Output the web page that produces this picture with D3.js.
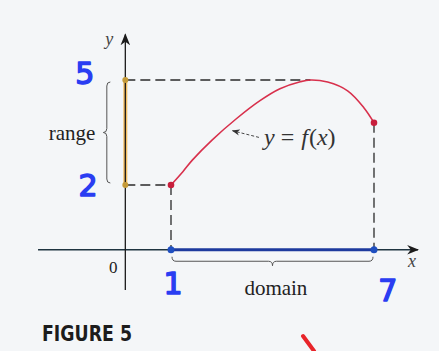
<!DOCTYPE html>
<html>
<head>
<meta charset="utf-8">
<script src="https://cdn.jsdelivr.net/npm/d3@7"></script>
<style>
html, body { margin: 0; padding: 0; background: #f4f6f8; }
svg { display: block; }
</style>
</head>
<body>
<svg id="chart" width="439" height="351"></svg>
<script>
// curve y = f(x)
var curveX = [1, 1.35, 1.63, 2.22, 2.94, 3.63, 4.22, 4.82, 5.12, 5.63, 6.22, 6.7, 7];
var curveY = [2, 2.38, 2.71, 3.29, 3.9, 4.41, 4.75, 4.95, 5, 4.94, 4.69, 4.21, 3.78];
var domainEnds = [1, 7];
var rangeEnds = [2, 5];
var maxX = 5.12;
// where the axes sit and how far they run (figure is not drawn to scale)
var axisCross = [-0.35, 0.15];
var xAxisRun = [-2.93, 8.3];
var yAxisRun = [-1.0, 6.3];
// handwritten marks
var noteText = ['5', '2', '1', '7'];
var noteX = [-1.55, -1.45, 1.06, 7.41];
var noteY = [4.88, 1.7, -1.1, -1.3];

var svg = d3.select('#chart');
var x = d3.scaleLinear().domain([1, 7]).range([171, 374]);
var y = d3.scaleLinear().domain([2, 5]).range([185, 80]);

var ox = x(axisCross[0]), oy = y(axisCross[1]);

var defs = svg.append('defs');
defs.append('marker').attr('id', 'arr').attr('viewBox', '0 0 10 10')
	.attr('refX', 9).attr('refY', 5).attr('markerWidth', 12).attr('markerHeight', 12)
	.attr('markerUnits', 'userSpaceOnUse').attr('orient', 'auto')
	.append('path').attr('d', 'M0,1 L10,5 L0,9 L3,5 Z').attr('fill', '#1b1b1b');
defs.append('marker').attr('id', 'arrSmall').attr('viewBox', '0 0 10 10')
	.attr('refX', 9).attr('refY', 5).attr('markerWidth', 8).attr('markerHeight', 8)
	.attr('markerUnits', 'userSpaceOnUse').attr('orient', 'auto')
	.append('path').attr('d', 'M0,1 L10,5 L0,9 L3,5 Z').attr('fill', '#333');

// highlight on the range (orange) - under the axis
svg.append('line')
	.attr('x1', ox).attr('x2', ox)
	.attr('y1', y(rangeEnds[1])).attr('y2', y(rangeEnds[0]))
	.attr('stroke', '#f3b446').attr('stroke-width', 4).attr('opacity', 0.85);

// axes
svg.append('line')
	.attr('x1', x(xAxisRun[0])).attr('x2', x(xAxisRun[1]))
	.attr('y1', oy).attr('y2', oy)
	.attr('stroke', '#1f3440').attr('stroke-width', 1.3)
	.attr('marker-end', 'url(#arr)');
svg.append('line')
	.attr('x1', ox).attr('x2', ox)
	.attr('y1', y(yAxisRun[0])).attr('y2', y(yAxisRun[1]))
	.attr('stroke', '#1b1b1b').attr('stroke-width', 1.3)
	.attr('marker-end', 'url(#arr)');

// domain highlight (blue)
svg.append('line')
	.attr('x1', x(domainEnds[0])).attr('x2', x(domainEnds[1]))
	.attr('y1', oy).attr('y2', oy)
	.attr('stroke', '#1d3a9e').attr('stroke-width', 3);

// dashed guides
var dash = '10,5';
var guides = [
	[[axisCross[0], rangeEnds[1]], [maxX, rangeEnds[1]]],
	[[axisCross[0], rangeEnds[0]], [domainEnds[0], rangeEnds[0]]],
	[[domainEnds[0], rangeEnds[0]], [domainEnds[0], axisCross[1]]],
	[[domainEnds[1], curveY[curveY.length - 1]], [domainEnds[1], axisCross[1]]]
];
svg.selectAll('.guide').data(guides).enter().append('line')
	.attr('class', 'guide')
	.attr('x1', function(d) {return x(d[0][0]);})
	.attr('y1', function(d) {return y(d[0][1]);})
	.attr('x2', function(d) {return x(d[1][0]);})
	.attr('y2', function(d) {return y(d[1][1]);})
	.attr('stroke', '#2a2a2a').attr('stroke-width', 1.3)
	.attr('stroke-dasharray', dash);

// the curve
var pts = curveX.map(function(v, i) {return [v, curveY[i]];});
var line = d3.line()
	.x(function(d) {return x(d[0]);})
	.y(function(d) {return y(d[1]);})
	.curve(d3.curveCatmullRom);
svg.append('path').attr('d', line(pts))
	.attr('fill', 'none').attr('stroke', '#d8304c').attr('stroke-width', 1.6);

// end points
svg.selectAll('.redDot').data([pts[0], pts[pts.length - 1]]).enter().append('circle')
	.attr('cx', function(d) {return x(d[0]);})
	.attr('cy', function(d) {return y(d[1]);})
	.attr('r', 3.3).attr('fill', '#c81e3c');
svg.selectAll('.blueDot').data(domainEnds).enter().append('circle')
	.attr('cx', function(d) {return x(d);})
	.attr('cy', oy)
	.attr('r', 3.5).attr('fill', '#1f4fc0');
svg.selectAll('.yDot').data(rangeEnds).enter().append('circle')
	.attr('cx', ox)
	.attr('cy', function(d) {return y(d);})
	.attr('r', 3).attr('fill', '#c59a38');

// curly braces
function brace(x1, y1, x2, y2, w) {
	// brace from (x1,y1) to (x2,y2), tip bulging w to the left of the direction
	var dx = x2 - x1, dy = y2 - y1, len = Math.sqrt(dx * dx + dy * dy);
	var ux = dx / len, uy = dy / len, nx = uy, ny = -ux;
	function p(t, s) {return [x1 + ux * t + nx * s, y1 + uy * t + ny * s];}
	var h = len / 2, q = w / 2;
	var a = p(0, 0), b = p(4, q), c = p(h - 4, q), tip = p(h, w);
	var d = p(h + 4, q), e = p(len - 4, q), f = p(len, 0);
	var c1 = p(0, q), c2 = p(h, q), c3 = p(h, q), c4 = p(len, q);
	return 'M' + a + 'Q' + c1 + ' ' + b + 'L' + c + 'Q' + c2 + ' ' + tip +
		'Q' + c3 + ' ' + d + 'L' + e + 'Q' + c4 + ' ' + f;
}
svg.append('path')
	.attr('d', brace(ox - 15, y(rangeEnds[0]) - 2, ox - 15, y(rangeEnds[1]) + 2, 7))
	.attr('fill', 'none').attr('stroke', '#555').attr('stroke-width', 1);
svg.append('path')
	.attr('d', brace(x(domainEnds[0]) + 1, oy + 7, x(domainEnds[1]) - 1, oy + 7, -9))
	.attr('fill', 'none').attr('stroke', '#555').attr('stroke-width', 1);

// text
var serif = '"Liberation Serif", "DejaVu Serif", serif';
svg.append('text').attr('x', ox - 30).attr('y', y(3.5) + 7)
	.attr('text-anchor', 'end').attr('font-family', serif).attr('font-size', 21)
	.attr('fill', '#222').text('range');
svg.append('text').attr('x', x(4.1)).attr('y', oy + 45)
	.attr('text-anchor', 'middle').attr('font-family', serif).attr('font-size', 21)
	.attr('fill', '#222').text('domain');
svg.append('text').attr('x', ox - 12).attr('y', oy + 23)
	.attr('text-anchor', 'middle').attr('font-family', serif).attr('font-size', 17)
	.attr('fill', '#222').text('0');
svg.append('text').attr('x', ox - 20).attr('y', y(yAxisRun[1]) + 10)
	.attr('font-family', serif).attr('font-style', 'italic').attr('font-size', 18)
	.attr('fill', '#444').text('y');
svg.append('text').attr('x', x(xAxisRun[1]) - 10).attr('y', oy + 17)
	.attr('font-family', serif).attr('font-style', 'italic').attr('font-size', 18)
	.attr('fill', '#444').text('x');

var lab = svg.append('text').attr('x', x(3.75)).attr('y', y(3.14))
	.attr('font-family', serif).attr('font-size', 24).attr('fill', '#333');
lab.append('tspan').attr('font-style', 'italic').text('y');
lab.append('tspan').attr('dx', 6).text('=');
lab.append('tspan').attr('dx', 7).attr('font-style', 'italic').text('f');
lab.append('tspan').attr('dx', 1).text('(');
lab.append('tspan').attr('font-style', 'italic').text('x');
lab.append('tspan').text(')');
svg.append('line')
	.attr('x1', x(3.6)).attr('y1', y(3.36))
	.attr('x2', x(2.82)).attr('y2', y(3.55))
	.attr('stroke', '#333').attr('stroke-width', 0.9)
	.attr('stroke-dasharray', '3,2')
	.attr('marker-end', 'url(#arrSmall)');

svg.append('text').attr('x', 42).attr('y', 341)
	.attr('font-family', '"Liberation Sans Narrow", "DejaVu Sans Condensed", "Liberation Sans", sans-serif')
	.attr('font-weight', 'bold').attr('font-size', 21)
	.attr('textLength', 90).attr('lengthAdjust', 'spacingAndGlyphs')
	.attr('fill', '#1c1c1c').text('FIGURE 5');

// handwritten blue notes
svg.selectAll('.note').data(noteText).enter().append('text')
	.attr('class', 'note')
	.attr('x', function(d, i) {return x(noteX[i]);})
	.attr('y', function(d, i) {return y(noteY[i]);})
	.attr('text-anchor', 'middle')
	.attr('font-family', '"DejaVu Sans", sans-serif').attr('font-size', 30)
	.attr('fill', '#2a3df2').attr('stroke', '#2a3df2').attr('stroke-width', 1.5)
	.attr('stroke-linejoin', 'round')
	.text(function(d) {return d;});

// red marker stroke at the bottom
svg.append('line').attr('x1', 303).attr('y1', 336).attr('x2', 314).attr('y2', 351)
	.attr('stroke', '#e8242a').attr('stroke-width', 4).attr('stroke-linecap', 'round');
</script>
</body>
</html>
